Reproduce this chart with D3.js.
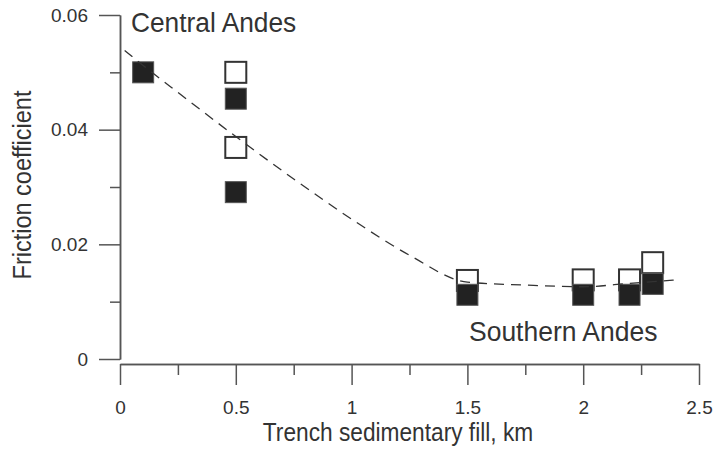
<!DOCTYPE html>
<html>
<head>
<meta charset="utf-8">
<script src="https://cdn.jsdelivr.net/npm/d3@7"></script>
<style>
    body { margin: 0; background: #fff; }
    svg { display: block; font-family: "Liberation Sans", Arial, sans-serif; }
</style>
</head>
<body>
<svg id="chart"></svg>
<script>
// filled squares
const filledKm = [0.1, 0.5, 0.5, 1.5, 2.0, 2.2, 2.3];
const filledMu = [0.0500, 0.0454, 0.0291, 0.0112, 0.0112, 0.0112, 0.0131];
// open squares
const openKm = [0.5, 0.5, 1.5, 2.0, 2.2, 2.3];
const openMu = [0.0500, 0.0369, 0.0137, 0.0138, 0.0138, 0.0168];
// dashed trend curve
const curveKm = [0.02, 0.1, 0.25, 0.5, 0.75, 1.0, 1.25, 1.5, 1.75, 2.0, 2.2, 2.4];
const curveMu = [0.0538, 0.0512, 0.0465, 0.0388, 0.0314, 0.0244, 0.0181, 0.0134, 0.0129, 0.0126, 0.0132, 0.0138];
// ticks
const xTicks = [0, 0.5, 1, 1.5, 2, 2.5];
const xTickLabels = ['0', '0.5', '1', '1.5', '2', '2.5'];
const xMinorTicks = [0.25, 0.75, 1.25, 1.75, 2.25];
const yTicks = [0, 0.02, 0.04, 0.06];
const yTickLabels = ['0', '0.02', '0.04', '0.06'];
const yMinorTicks = [0.01, 0.03, 0.05];

class FrictionChart {

    constructor( config ) {
        this.config = {
            parent: config.parent,
            width: config.width || 714,
            height: config.height || 449,
            xlabel: config.xlabel || '',
            ylabel: config.ylabel || ''
        }
        this.init();
    }

    init() {
        let self = this;

        self.svg = d3.select( self.config.parent )
            .attr('width', self.config.width)
            .attr('height', self.config.height);

        self.xscale = d3.scaleLinear()
            .domain([0, 2.5])
            .range([120, 699]);

        self.yscale = d3.scaleLinear()
            .domain([0, 0.06])
            .range([359, 15]);

        self.line = d3.line()
            .x( (d, i) => self.xscale(d) )
            .y( (d, i) => self.yscale(curveMu[i]) )
            .curve(d3.curveMonotoneX);
    }

    styleAxis( g ) {
        g.select('.domain').attr('stroke', '#555').attr('stroke-width', 1.5);
        g.selectAll('.tick line').attr('stroke', '#555').attr('stroke-width', 1.5);
        g.selectAll('.tick text')
            .attr('fill', '#333')
            .style('font-size', '19px')
            .style('font-family', '"Liberation Sans", Arial, sans-serif');
    }

    render() {
        let self = this;

        // x axis, offset below the plot
        const xaxis_y = 364;
        self.svg.append('g')
            .attr('transform', `translate(0, ${xaxis_y})`)
            .call( d3.axisBottom(self.xscale).tickValues(xMinorTicks).tickSize(11).tickSizeOuter(0).tickFormat('') )
            .call( g => self.styleAxis(g) );
        self.svg.append('g')
            .attr('transform', `translate(0, ${xaxis_y})`)
            .call( d3.axisBottom(self.xscale).tickValues(xTicks).tickSize(21).tickSizeOuter(0).tickPadding(16)
                .tickFormat( (d, i) => xTickLabels[i] ) )
            .call( g => self.styleAxis(g) );

        // y axis
        self.svg.append('g')
            .attr('transform', `translate(120, 0)`)
            .call( d3.axisLeft(self.yscale).tickValues(yMinorTicks).tickSize(10).tickSizeOuter(0).tickFormat('') )
            .call( g => self.styleAxis(g) );
        self.svg.append('g')
            .attr('transform', `translate(120, 0)`)
            .call( d3.axisLeft(self.yscale).tickValues(yTicks).tickSize(21).tickSizeOuter(0).tickPadding(11)
                .tickFormat( (d, i) => yTickLabels[i] ) )
            .call( g => self.styleAxis(g) );

        // axis titles (glyphs in the figure are a little taller than wide)
        self.svg.append('text')
            .attr('transform', `translate(398, 441) scale(1, 1.1)`)
            .attr('text-anchor', 'middle')
            .attr('fill', '#333')
            .style('font-size', '22.7px')
            .text( self.config.xlabel );

        self.svg.append('text')
            .attr('transform', `translate(31, 185) rotate(-90) scale(1, 1.1)`)
            .attr('text-anchor', 'middle')
            .attr('fill', '#333')
            .style('font-size', '23.5px')
            .text( self.config.ylabel );

        // squares
        const size = 21;
        self.svg.append('g').selectAll('rect')
            .data(openKm)
            .join('rect')
            .attr('x', d => self.xscale(d) - size / 2)
            .attr('y', (d, i) => self.yscale(openMu[i]) - size / 2)
            .attr('width', size)
            .attr('height', size)
            .attr('fill', '#fff')
            .attr('stroke', '#333')
            .attr('stroke-width', 2);

        self.svg.append('g').selectAll('rect')
            .data(filledKm)
            .join('rect')
            .attr('x', d => self.xscale(d) - size / 2)
            .attr('y', (d, i) => self.yscale(filledMu[i]) - size / 2)
            .attr('width', size)
            .attr('height', size)
            .attr('fill', '#222')
            .attr('stroke', '#555')
            .attr('stroke-width', 1);

        // trend curve
        self.svg.append('path')
            .attr('d', self.line(curveKm))
            .attr('fill', 'none')
            .attr('stroke', '#333')
            .attr('stroke-width', 1.3)
            .attr('stroke-dasharray', '10,7');

        // region labels
        self.svg.append('text')
            .attr('transform', `translate(131, 32) scale(1, 1.04)`)
            .attr('fill', '#333')
            .style('font-size', '26.3px')
            .text('Central Andes');

        self.svg.append('text')
            .attr('transform', `translate(469, 341) scale(1, 1.04)`)
            .attr('fill', '#333')
            .style('font-size', '26.5px')
            .text('Southern Andes');
    }
}

const chart = new FrictionChart({
    parent: '#chart',
    width: 714,
    height: 449,
    xlabel: 'Trench sedimentary fill, km',
    ylabel: 'Friction coefficient'
});
chart.render();
</script>
</body>
</html>
